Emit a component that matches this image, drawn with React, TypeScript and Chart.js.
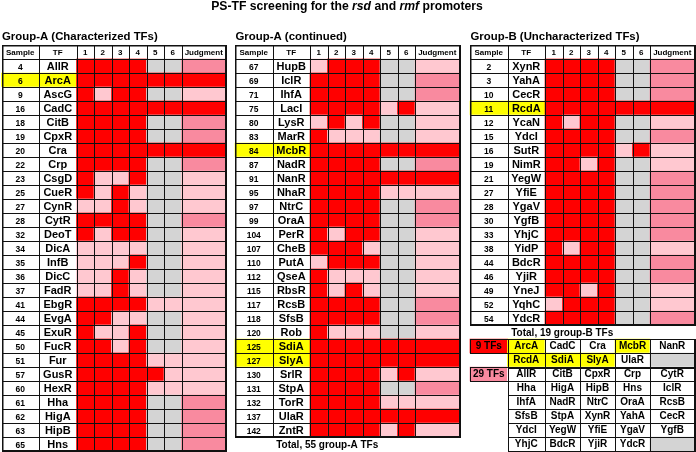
import React, { useEffect, useRef } from "react";
import { Chart, registerables } from "chart.js";

Chart.register(...registerables);

// ---------------- DATA ----------------
const chartTitle = ["PS-TF screening for the ", "rsd", " and ", "rmf", " promoters"];
const headerLabels = ["Sample", "TF", "1", "2", "3", "4", "5", "6", "Judgment"];

// Assay codes: R = strong (red), P = weak (pink), G = not detected (gray)
// Judgment codes: R = positive (red), M = medium (pink), P = weak (light pink)
const groupASamples = [4, 6, 9, 16, 18, 19, 20, 22, 23, 25, 27, 28, 32, 34, 35, 36, 37, 41, 44, 45, 50, 51, 57, 60, 61, 62, 63, 65];
const groupATFs = ["AllR", "ArcA", "AscG", "CadC", "CitB", "CpxR", "Cra", "Crp", "CsgD", "CueR", "CynR", "CytR", "DeoT", "DicA", "InfB", "DicC", "FadR", "EbgR", "EvgA", "ExuR", "FucR", "Fur", "GusR", "HexR", "Hha", "HigA", "HipB", "Hns"];
const groupAResults = ["RRRRGGM", "RRRRRRR", "RPRRGGP", "RRRRRRR", "RRRRGGM", "RRRRGGM", "RRRRRRR", "RRRRGGM", "RPPRGGP", "RPRPGGP", "PPRPGGP", "RRRRGGM", "RPRRGGP", "PPPPGGP", "PPPRGGP", "PPRPGGP", "PPRPGGP", "RRRRPPP", "RRPPGGP", "RPPRGGP", "RRPRGGP", "RRRRPPP", "RRRRRPP", "RRRRPPP", "RRRRGGM", "RRRRGGM", "RRRRGGM", "RRRRGGM"];

const groupAContSamples = [67, 69, 71, 75, 80, 83, 84, 87, 91, 95, 97, 99, 104, 107, 110, 112, 115, 117, 118, 120, 125, 127, 130, 131, 132, 137, 142];
const groupAContTFs = ["HupB", "IclR", "IhfA", "LacI", "LysR", "MarR", "McbR", "NadR", "NanR", "NhaR", "NtrC", "OraA", "PerR", "CheB", "PutA", "QseA", "RbsR", "RcsB", "SfsB", "Rob", "SdiA", "SlyA", "SrlR", "StpA", "TorR", "UlaR", "ZntR"];
const groupAContResults = ["PRRRGGP", "RRRRGGM", "RRRRGGM", "RRRRPRP", "PRPRGGP", "RPPPGGP", "RRRRRRR", "RRRRGGM", "RRRRRRR", "RRRRPPP", "RRRRGGM", "RRRRGGM", "RPRRGGP", "RRRPGGP", "PRRRGGP", "RPPPGGP", "RPRPGGP", "RRRRGGM", "RRRRGGM", "RPPPGGP", "RRRRRRR", "RRRRRRR", "RRRRPRP", "RRRRGGM", "RRRRPPP", "RRRRRRR", "RRRRPRP"];

const groupBSamples = [2, 3, 10, 11, 12, 15, 16, 19, 21, 27, 28, 30, 33, 38, 44, 46, 49, 52, 54];
const groupBTFs = ["XynR", "YahA", "CecR", "RcdA", "YcaN", "YdcI", "SutR", "NimR", "YegW", "YfiE", "YgaV", "YgfB", "YhjC", "YidP", "BdcR", "YjiR", "YneJ", "YqhC", "YdcR"];
const groupBResults = ["RRRRGGM", "RRRRGGM", "RRRRGGM", "RRRRRRR", "RPRRGGP", "RRRRGGM", "RRRRPRP", "RRPRGGP", "RRRRGGM", "RRRRGGM", "RRRRGGM", "RRRRGGM", "RRRRGGM", "RPRRGGP", "RRRRGGM", "RRRRGGM", "RRPRGGP", "PRRRGGP", "RRRRGGM"];

const highlightedTFs = ["ArcA", "McbR", "RcdA", "SdiA", "SlyA"];
const summaryPositiveTFs = ["ArcA", "CadC", "Cra", "McbR", "NanR", "RcdA", "SdiA", "SlyA", "UlaR"];
const summaryMediumTFs = ["AllR", "CitB", "CpxR", "Crp", "CytR", "Hha", "HigA", "HipB", "Hns", "IclR", "IhfA", "NadR", "NtrC", "OraA", "RcsB", "SfsB", "StpA", "XynR", "YahA", "CecR", "YdcI", "YegW", "YfiE", "YgaV", "YgfB", "YhjC", "BdcR", "YjiR", "YdcR"];
const groupTitles = ["Group-A (Characterized TFs)", "Group-A (continued)", "Group-B (Uncharacterized TFs)"];
const totalLabels = ["", "Total, 55 group-A TFs", "Total, 19 group-B TFs"];

// ---------------- LAYOUT / STYLE ----------------
const W = 696;
const H = 452;
const ROW_H = 14;
const HEADER_TOP = 45;
const COL_W = [37.5, 37.5, 17.5, 17.5, 17.5, 17.5, 17.5, 17.5, 44.5];
const TABLE_X = [1.5, 235, 470];
const SUMMARY_TOP = 339;
const FONT = '"Liberation Sans", Arial, sans-serif';

const COLORS: Record<string, string> = {
  R: "#ff0000",
  P: "#ffc8d0",
  G: "#d4d4d4",
  M: "#f98a9f",
  Y: "#ffff00",
  W: "#ffffff",
};

function edges(x0: number): number[] {
  const e = [x0];
  COL_W.forEach((w) => e.push(e[e.length - 1] + w));
  return e;
}

const tables = [
  { samples: groupASamples, tfs: groupATFs, results: groupAResults },
  { samples: groupAContSamples, tfs: groupAContTFs, results: groupAContResults },
  { samples: groupBSamples, tfs: groupBTFs, results: groupBResults },
];

// Summary grid: columns on right table edges starting from TF column
const summaryEdges = (() => {
  const e = edges(TABLE_X[2]);
  return [e[1], e[2], e[4], e[6], e[8], e[9]];
})();
const summaryRows: (string | null)[][] = (() => {
  const rows: (string | null)[][] = [];
  const pushList = (list: string[]) => {
    for (let i = 0; i < list.length; i += 5) {
      const r: (string | null)[] = [];
      for (let j = 0; j < 5; j++) r.push(list[i + j] ?? null);
      rows.push(r);
    }
  };
  pushList(summaryPositiveTFs);
  pushList(summaryMediumTFs);
  return rows;
})();

type Cell = { x: [number, number]; y: number };

function buildCells() {
  const cells: Cell[] = [];
  const colors: string[] = [];
  const add = (x0: number, x1: number, top: number, c: string) => {
    cells.push({ x: [x0, x1], y: top + ROW_H / 2 });
    colors.push(c);
  };
  tables.forEach((t, ti) => {
    const e = edges(TABLE_X[ti]);
    for (let c = 0; c < 9; c++) add(e[c], e[c + 1], HEADER_TOP, COLORS.W);
    t.tfs.forEach((tf, r) => {
      const top = HEADER_TOP + ROW_H * (r + 1);
      const hl = highlightedTFs.includes(tf) ? COLORS.Y : COLORS.W;
      add(e[0], e[1], top, hl);
      add(e[1], e[2], top, hl);
      const res = t.results[r];
      for (let c = 0; c < 7; c++) add(e[c + 2], e[c + 3], top, COLORS[res[c]]);
    });
  });
  // summary label boxes
  const se = edges(TABLE_X[2]);
  add(se[0], se[1], SUMMARY_TOP, COLORS.R);
  add(se[0], se[1], SUMMARY_TOP + ROW_H * 2, COLORS.M);
  summaryRows.forEach((row, r) => {
    row.forEach((name, c) => {
      const col = name == null ? COLORS.G : highlightedTFs.includes(name) ? COLORS.Y : COLORS.W;
      add(summaryEdges[c], summaryEdges[c + 1], SUMMARY_TOP + ROW_H * r, col);
    });
  });
  return { cells, colors };
}

const tablePlugin = {
  id: "tableText",
  afterDatasetsDraw(chart: any) {
    const ctx: CanvasRenderingContext2D = chart.ctx;
    const xs = chart.scales.x;
    const ys = chart.scales.y;
    const px = (v: number) => xs.getPixelForValue(v);
    const py = (v: number) => ys.getPixelForValue(v);
    const crisp = (v: number) => Math.round(v) + 0.5;
    ctx.save();
    ctx.strokeStyle = "#111";

    const hLine = (x0: number, x1: number, y: number, lw = 1) => {
      ctx.lineWidth = lw;
      ctx.beginPath();
      ctx.moveTo(Math.round(px(x0)), crisp(py(y)) - 0.5 + lw / 2);
      ctx.lineTo(Math.round(px(x1)) + 1, crisp(py(y)) - 0.5 + lw / 2);
      ctx.stroke();
    };
    const vLine = (x: number, y0: number, y1: number, lw = 1) => {
      ctx.lineWidth = lw;
      ctx.beginPath();
      ctx.moveTo(crisp(px(x)) - 0.5 + lw / 2, Math.round(py(y0)));
      ctx.lineTo(crisp(px(x)) - 0.5 + lw / 2, Math.round(py(y1)) + 1);
      ctx.stroke();
    };

    // table grids
    tables.forEach((t, ti) => {
      const e = edges(TABLE_X[ti]);
      const bottom = HEADER_TOP + ROW_H * (t.tfs.length + 1);
      for (let r = 0; r <= t.tfs.length + 1; r++) hLine(e[0], e[9], HEADER_TOP + r * ROW_H);
      e.forEach((x) => vLine(x, HEADER_TOP, bottom));
      hLine(e[0], e[9], HEADER_TOP, 1.5);
      hLine(e[0], e[9], bottom - 1, 1.5);
      vLine(e[0], HEADER_TOP, bottom, 1.5);
      vLine(e[9] - 1, HEADER_TOP, bottom, 1.5);
    });
    // summary grid
    const se = edges(TABLE_X[2]);
    const sBottom = SUMMARY_TOP + ROW_H * summaryRows.length;
    for (let r = 0; r <= summaryRows.length; r++) hLine(summaryEdges[0], summaryEdges[5], SUMMARY_TOP + r * ROW_H, r === 2 ? 2 : 1);
    summaryEdges.forEach((x) => vLine(x, SUMMARY_TOP, sBottom));
    vLine(summaryEdges[5] - 1, SUMMARY_TOP, sBottom, 1.5);
    [0, 2].forEach((r) => {
      const top = SUMMARY_TOP + r * ROW_H;
      hLine(se[0], se[1], top);
      hLine(se[0], se[1], top + ROW_H);
      vLine(se[0], top, top + ROW_H);
    });

    ctx.fillStyle = "#000";
    ctx.textAlign = "center";
    ctx.textBaseline = "middle";

    // title
    const segFonts = chartTitle.map((_, i) => (i % 2 === 1 ? `italic bold 12.2px ${FONT}` : `bold 12.2px ${FONT}`));
    let total = 0;
    const widths = chartTitle.map((s, i) => {
      ctx.font = segFonts[i];
      const w = ctx.measureText(s).width;
      total += w;
      return w;
    });
    let tx = px(347) - total / 2;
    ctx.textAlign = "left";
    chartTitle.forEach((s, i) => {
      ctx.font = segFonts[i];
      ctx.fillText(s, tx, py(6.5));
      tx += widths[i];
    });

    // group titles
    ctx.font = `bold 11.4px ${FONT}`;
    groupTitles.forEach((g, ti) => ctx.fillText(g, px(TABLE_X[ti] + 0.5), py(36.5)));

    ctx.textAlign = "center";
    tables.forEach((t, ti) => {
      const e = edges(TABLE_X[ti]);
      ctx.font = `bold 8px ${FONT}`;
      headerLabels.forEach((h, c) => ctx.fillText(h, px((e[c] + e[c + 1]) / 2), py(HEADER_TOP + ROW_H / 2 + 0.5)));
      t.samples.forEach((s, r) => {
        const top = HEADER_TOP + ROW_H * (r + 1);
        ctx.font = `bold 8.5px ${FONT}`;
        ctx.fillText(String(s), px((e[0] + e[1]) / 2), py(top + ROW_H / 2 + 2));
        ctx.font = `bold 11px ${FONT}`;
        ctx.fillText(t.tfs[r], px((e[1] + e[2]) / 2), py(top + ROW_H / 2 + 0.5));
      });
      if (totalLabels[ti]) {
        ctx.font = `bold 10px ${FONT}`;
        const bottom = HEADER_TOP + ROW_H * (t.tfs.length + 1);
        ctx.fillText(totalLabels[ti], px((e[1] + e[6]) / 2 + 1), py(bottom + 8));
      }
    });

    // summary texts
    ctx.font = `bold 10px ${FONT}`;
    ctx.fillText(`${summaryPositiveTFs.length} TFs`, px((se[0] + se[1]) / 2), py(SUMMARY_TOP + ROW_H / 2 + 0.5));
    ctx.fillText(`${summaryMediumTFs.length} TFs`, px((se[0] + se[1]) / 2), py(SUMMARY_TOP + ROW_H * 2.5 + 0.5));
    summaryRows.forEach((row, r) => {
      row.forEach((name, c) => {
        if (name) ctx.fillText(name, px((summaryEdges[c] + summaryEdges[c + 1]) / 2), py(SUMMARY_TOP + ROW_H * r + ROW_H / 2 + 0.5));
      });
    });
    ctx.restore();
  },
};

export default function App() {
  const ref = useRef<HTMLCanvasElement | null>(null);
  useEffect(() => {
    if (!ref.current) return;
    const { cells, colors } = buildCells();
    const chart = new Chart(ref.current, {
      type: "bar",
      data: {
        datasets: [
          {
            data: cells as any,
            backgroundColor: colors,
            borderWidth: 0,
            barThickness: ROW_H,
            grouped: false,
          } as any,
        ],
      },
      options: {
        indexAxis: "y",
        animation: false,
        responsive: false,
        devicePixelRatio: 1,
        layout: { padding: 0 },
        plugins: { legend: { display: false }, tooltip: { enabled: false }, title: { display: false } },
        scales: {
          x: { type: "linear", min: 0, max: W, display: false, offset: false },
          y: { type: "linear", min: 0, max: H, reverse: true, display: false, offset: false },
        },
      } as any,
      plugins: [tablePlugin],
    });
    return () => chart.destroy();
  }, []);
  return (
    <div style={{ position: "absolute", left: 0, top: 0, width: W, height: H, background: "#fff" }}>
      <canvas ref={ref} width={W} height={H} style={{ width: W, height: H }} />
    </div>
  );
}
